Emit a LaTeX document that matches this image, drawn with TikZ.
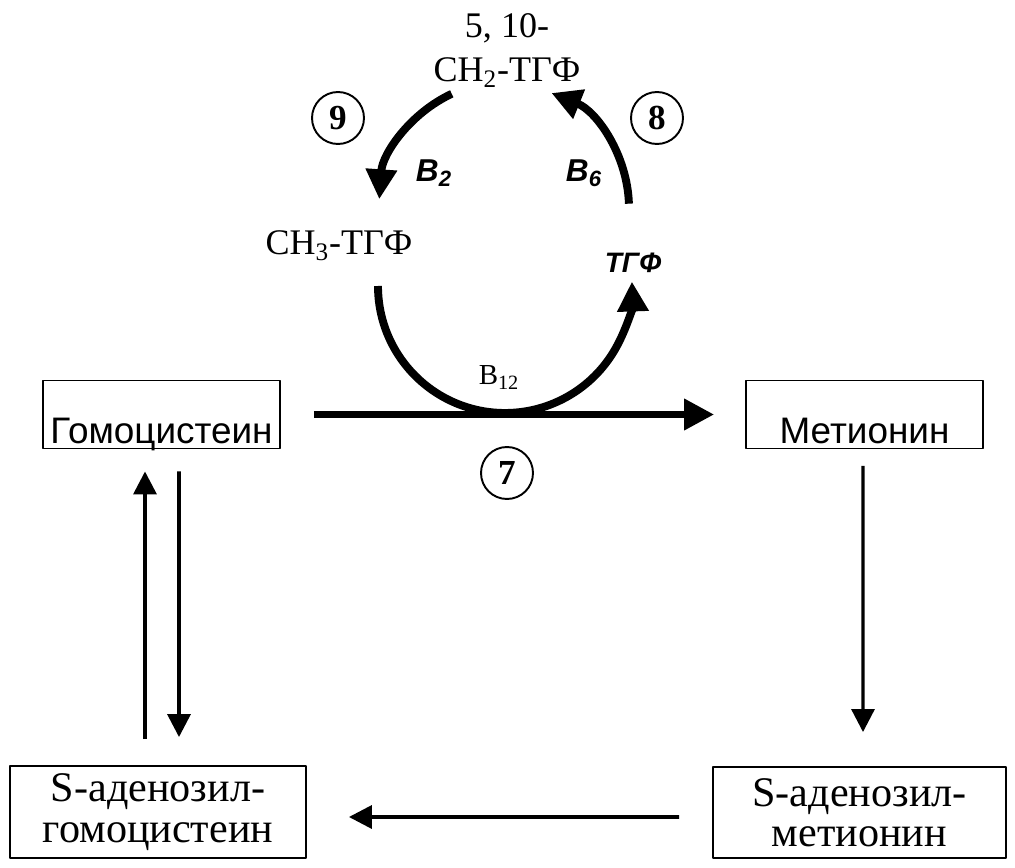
\documentclass[tikz,border=0pt]{standalone}
\usepackage{fontspec}
\setmainfont{Liberation Serif}
\setsansfont{Liberation Sans}
\usetikzlibrary{arrows.meta}

\begin{document}
\begin{tikzpicture}[line join=round,x=0.02cm,y=0.02cm,
  box/.style={draw,line width=1.1pt,inner sep=0pt},
  fatarr/.style={line width=4.5pt,-{Triangle[length=17pt,width=17pt]}},
  thinarr/.style={line width=2pt,-{Triangle[length=13pt,width=13pt]}},
  num/.style={circle,draw,line width=1.1pt,minimum size=1.04cm,inner sep=0pt,font=\fontsize{20}{20}\selectfont\bfseries},
  tnr/.style={font=\fontsize{20.5}{24}\selectfont},
  vit/.style={font=\fontsize{18}{20}\selectfont\sffamily\bfseries\itshape}]
\useasboundingbox (0,0) rectangle (1015,-868);
% boxes
\node[box,minimum width=4.74cm,text height=1.26cm,text depth=0.1cm,font=\fontsize{21}{24}\selectfont\sffamily] (gomo) at (161.5,-414.5) {Гомоцистеин};
\node[box,minimum width=4.74cm,text height=1.26cm,text depth=0.1cm,font=\fontsize{21}{24}\selectfont\sffamily] (met) at (864.5,-414.5) {Метионин};
\node[box,minimum width=5.92cm,minimum height=1.84cm,align=center,font=\fontsize{24}{23}\selectfont] (sag) at (158,-812) {S-аденозил-\\гомоцистеин};
\node[box,minimum width=5.86cm,minimum height=1.82cm,align=center,font=\fontsize{24}{23}\selectfont] (sam) at (859.5,-812.5) {S-аденозил-\\метионин};
% folate cycle
\node[tnr,anchor=base] (five) at (507,-38) {5, 10-};
\node[tnr,anchor=base] (mthf) at (507,-82) {CH\textsubscript{2}-ТГФ};
\node[tnr,anchor=base] (methyl) at (339,-255) {CH\textsubscript{3}-ТГФ};
\node[font=\fontsize{16}{18}\selectfont\sffamily\bfseries\itshape,anchor=base] (thf) at (633,-273) {ТГФ};
\node[vit,anchor=base] (b2) at (434,-182) {B\textsubscript{2}};
\node[vit,anchor=base] (b6) at (584,-182) {B\textsubscript{6}};
\node[font=\fontsize{16.5}{18}\selectfont,anchor=base] (b12) at (499,-385) {B\textsubscript{12}};
\node[num] (n9) at (338,-118) {9};
\node[num] (n8) at (657,-118) {8};
\node[num] (n7) at (507,-473) {7};
\coordinate (cyc) at (505,-208);
\coordinate (cyc2) at (505,-286);
\draw[fatarr] (cyc) ++(115:126) arc[start angle=115,end angle=176,radius=126];
\draw[fatarr] (cyc) ++(2:124) arc[start angle=2,end angle=68,radius=124];
\draw[fatarr] (cyc2) ++(180:127) arc[start angle=180,end angle=362,radius=127];
% methionine cycle
\draw[fatarr,line width=4pt] ([xshift=0.66cm]gomo.east) -- ([xshift=-0.62cm]met.west);
\draw[thinarr] ([shift={(-13,26)}]sag.north) -- ([shift={(-16.5,-22)}]gomo.south);
\draw[thinarr] ([shift={(17.5,-22)}]gomo.south) -- ([shift={(21,28)}]sag.north);
\draw[thinarr,line width=1.8pt] ([shift={(-1.5,-16.5)}]met.south) -- ([shift={(3.5,34)}]sam.north);
\draw[thinarr] ([shift={(-33,-4.5)}]sam.west) -- ([shift={(42,-5)}]sag.east);
\end{tikzpicture}
\end{document}
